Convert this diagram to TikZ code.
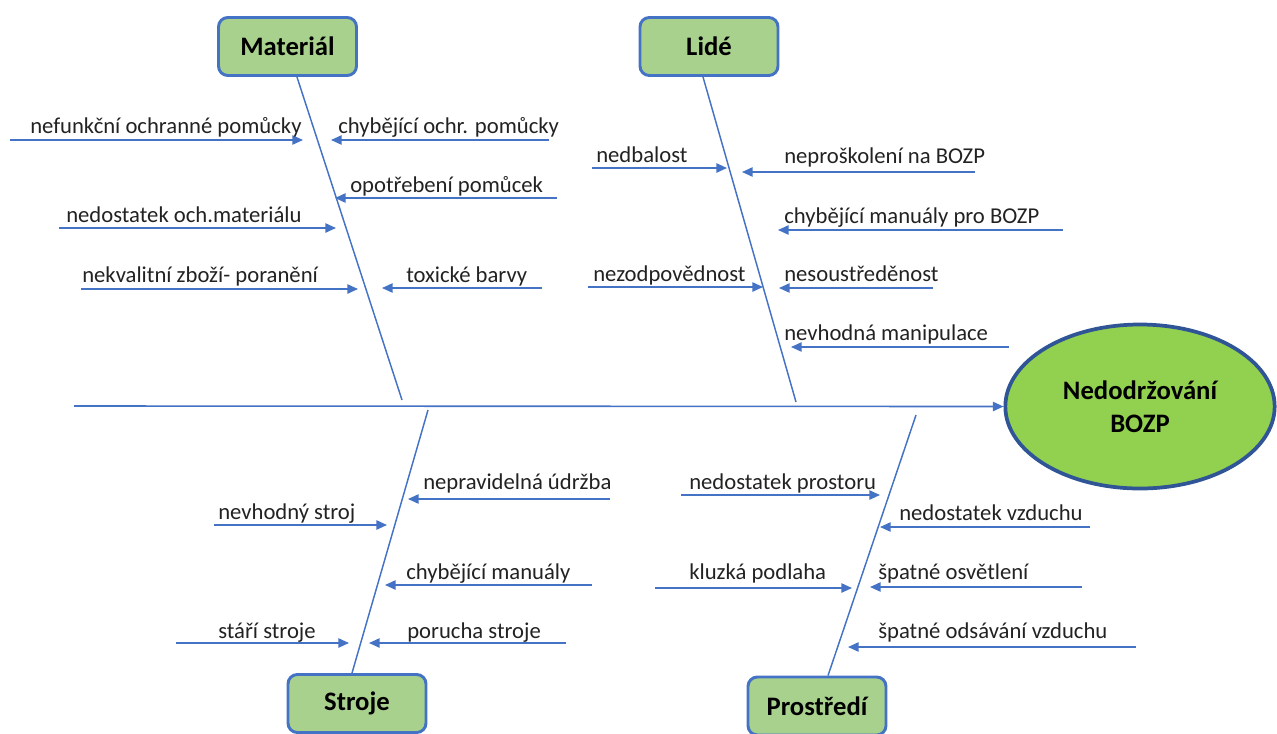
\documentclass[tikz,border=0pt]{standalone}
\usepackage{fontspec}
\setmainfont{Carlito}
\usetikzlibrary{arrows.meta,shapes.geometric}

\definecolor{bonecol}{HTML}{4472C4}
\definecolor{boxfill}{HTML}{A9D18E}
\definecolor{effectfill}{HTML}{92D050}
\definecolor{effectedge}{HTML}{2F5597}
\definecolor{txt}{HTML}{222222}

\tikzset{
  bone/.style={draw=bonecol, line width=1.1pt},
  causeline/.style={draw=bonecol, line width=1.2pt, -{Triangle[length=8pt,width=7pt]}},
  spineline/.style={draw=bonecol, line width=1.2pt, -{Triangle[length=8pt,width=7pt]}},
  causetext/.style={font=\fontsize{17}{20}\selectfont, text=txt, inner sep=0pt, anchor=base west},
  category/.style={draw=bonecol, fill=boxfill, line width=2.2pt, rounded corners=7pt,
    minimum width=103.5pt, minimum height=43.5pt, inner sep=0pt,
    font=\bfseries\fontsize{20}{24}\selectfont, text=black},
  effect/.style={ellipse, draw=effectedge, fill=effectfill, line width=2.8pt,
    minimum width=202pt, minimum height=123pt, inner sep=0pt, align=center,
    font=\bfseries\fontsize{20}{25}\selectfont, text=black}
}

% one cause: name, x of tail, x of tip, y of line, x of text, y of text baseline, text
\newcommand\fishcause[7]{%
  \coordinate (#1from) at (#2,#4);
  \coordinate (#1to) at (#3,#4);
  \draw[causeline] (#1from) -- (#1to);
  \node[causetext] (#1) at (#5,#6) {#7};
}

\begin{document}
\begin{tikzpicture}[x=0.75pt, y=-0.75pt]
  \useasboundingbox (0,0) rectangle (1277,733);

  % effect and categories
  \node[effect] (eff) at (1140,406.5) {Nedodržování\\BOZP};
  \node[category] (mat) at (287.5,46.5) {Materiál};
  \node[category] (lid) at (709,46.5) {Lidé};
  \node[category] (str) at (357,703.5) {Stroje};
  \node[category] (pro) at (817,706) {Prostředí};

  % spine
  \coordinate (spineStart) at (74,406);
  \draw[spineline] (spineStart) -- (eff.west);

  % category bones
  \coordinate (matEnd) at (402,400);
  \coordinate (lidEnd) at (796,402);
  \coordinate (strEnd) at (428,410);
  \coordinate (proEnd) at (916,415);
  \draw[bone] ([xshift=7.1pt]mat.south) -- (matEnd);
  \draw[bone] ([xshift=-4.5pt]lid.south) -- (lidEnd);
  \draw[bone] ([xshift=-3.75pt]str.north) -- (strEnd);
  \draw[bone] ([xshift=8.25pt]pro.north) -- (proEnd);

  % Materiál
  \fishcause{m1}{10}{303}{140}{30}{133}{nefunkční ochranné pomůcky}
  \fishcause{m2}{549}{331}{140}{338}{133}{chybějící ochr. pomůcky}
  \fishcause{m3}{557}{335}{198}{350}{192}{opotřebení pomůcek}
  \fishcause{m4}{59}{336}{228}{66}{222}{nedostatek och.materiálu}
  \fishcause{m5}{81}{358}{289}{82}{282}{nekvalitní zboží- poranění}
  \fishcause{m6}{542}{382}{288}{406}{282}{toxické barvy}

  % Lidé
  \fishcause{l1}{592}{727}{168}{596}{162}{nedbalost}
  \fishcause{l2}{975}{742}{172}{784}{163}{neproškolení na BOZP}
  \fishcause{l3}{1063}{778}{230}{784}{223}{chybějící manuály pro BOZP}
  \fishcause{l4}{588}{763}{287}{593}{281}{nezodpovědnost}
  \fishcause{l5}{933}{779}{288}{784}{281}{nesoustředěnost}
  \fishcause{l6}{1009}{791}{347}{784}{340}{nevhodná manipulace}

  % Stroje
  \fishcause{s1}{610}{408}{499}{423}{489}{nepravidelná údržba}
  \fishcause{s2}{214}{387}{525}{218}{519}{nevhodný stroj}
  \fishcause{s3}{592}{385}{585}{406}{579}{chybějící manuály}
  \fishcause{s4}{176}{349}{643}{218}{638}{stáří stroje}
  \fishcause{s5}{566}{369}{643}{407}{638}{porucha stroje}

  % Prostředí
  \fishcause{p1}{681}{880}{495}{689}{489}{nedostatek prostoru}
  \fishcause{p2}{1090}{880}{527}{899}{520}{nedostatek vzduchu}
  \fishcause{p3}{655}{852}{588}{689}{579}{kluzká podlaha}
  \fishcause{p4}{1082}{870}{587}{878}{579}{špatné osvětlení}
  \fishcause{p5}{1136}{848}{647}{878}{638}{špatné odsávání vzduchu}
\end{tikzpicture}
\end{document}
